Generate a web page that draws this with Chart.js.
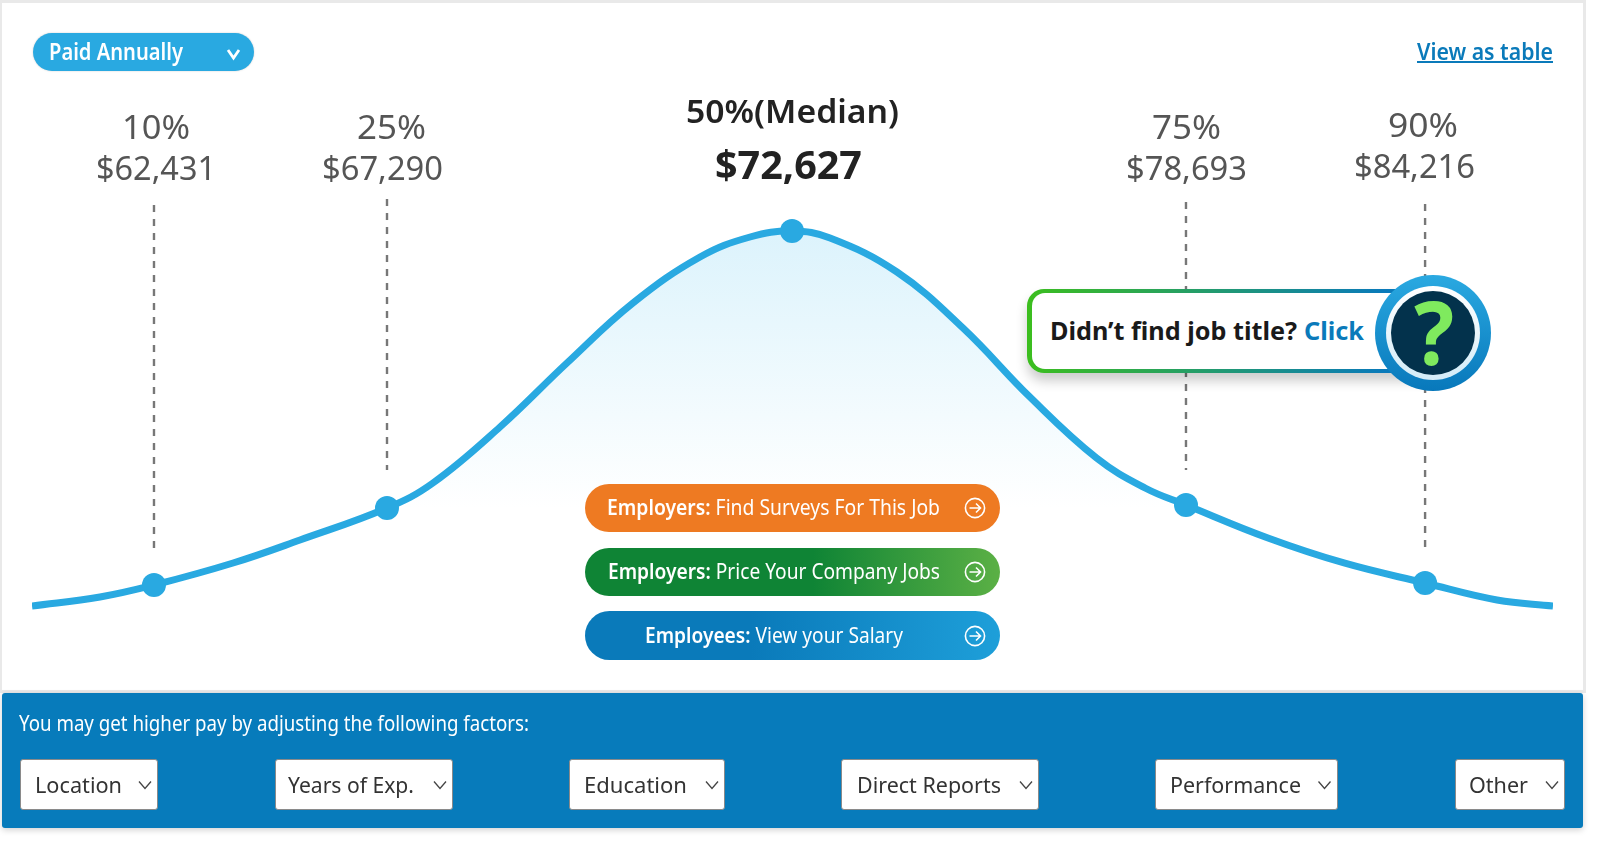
<!DOCTYPE html>
<html lang="en">
<head>
<meta charset="utf-8">
<title>Salary distribution</title>
<script src="https://cdn.jsdelivr.net/npm/chart.js@4/dist/chart.umd.min.js"></script>
<style>
html,body{margin:0;padding:0;background:#fff;width:1600px;height:842px;overflow:hidden;font-family:"Noto Sans",sans-serif}
#card{position:absolute;left:0;top:0;width:1581px;height:687px;border:solid #e9e9e9;border-width:3px 3px 3px 2px;background:#fff}
#chart{position:absolute;left:0;top:0;width:1600px;height:842px}
.t{position:absolute;white-space:nowrap;transform-origin:0 50%;line-height:1}
.t b{font-weight:600}
.box{position:absolute}
#panel{background:#077bbb;border-radius:3px;box-shadow:0 2px 6px rgba(0,0,0,.18)}
.sel{background:#fff;border:1.5px solid #8a8a8a;border-radius:3px;box-sizing:border-box}
.pill{border-radius:25px}
svg{position:absolute;overflow:visible}
</style>
</head>
<body>
<div id="card"></div>
<canvas id="chart" width="1600" height="842"></canvas>
<script>
// ---------- data ----------
const curveX = [0,4.47,8.02,13.22,17.62,23.34,26.36,30.77,35.17,39.51,43.92,47.21,49.97,52.47,56.87,61.21,65.61,69.99,73.18,75.87,81.26,86.26,91.59,96.32,100];
const curveY = [0,2.4,5.6,11.47,17.6,26.13,32.8,47.73,64.8,80.8,93.07,98.4,100,98.13,89.07,74.13,55.73,39.47,31.47,26.93,18.13,11.47,6.13,1.6,0];
const percentileNames = ["10%","25%","50%(Median)","75%","90%"];
const salaryLabels = ["$62,431","$67,290","$72,627","$78,693","$84,216"];
const percentileX = [8.02,23.34,49.97,75.87,91.59];
const percentileY = [5.6,26.13,100,26.93,6.13];
const guideTop = [106.93,108.53,null,107.73,107.2];
const guideBottom = [15.47,36.27,null,36.27,15.47];
const factorLabels = ["Location","Years of Exp.","Education","Direct Reports","Performance","Other"];

// ---------- chart ----------
const LINE = "#29a9e1";
const guideSets = percentileX.map((x,i)=> guideTop[i]===null ? null : ({
  label:"guide "+percentileNames[i],
  data:[{x:x,y:guideTop[i]},{x:x,y:guideBottom[i]}],
  borderColor:"#777",borderWidth:2.4,borderDash:[7,7],pointRadius:0,fill:false,order:3,tension:0
})).filter(Boolean);
new Chart(document.getElementById("chart"),{
  type:"line",
  data:{datasets:[
    {label:"percentiles",data:percentileX.map((x,i)=>({x:x,y:percentileY[i]})),showLine:false,
     pointRadius:12,pointBackgroundColor:LINE,pointBorderWidth:0,order:0},
    {label:"salary curve",data:curveX.map((x,i)=>({x:x,y:curveY[i]})),borderColor:LINE,borderWidth:7,
     pointRadius:0,tension:0.4,fill:"origin",order:1,
     backgroundColor(c){
       const ch=c.chart,s=ch.scales.y;
       if(!s||!ch.chartArea) return "rgba(0,0,0,0)";
       const g=ch.ctx.createLinearGradient(0,s.getPixelForValue(100),0,s.getPixelForValue(26));
       g.addColorStop(0,"#dcf3fc");g.addColorStop(1,"#ffffff");return g;
     }},
    ...guideSets
  ]},
  options:{
    responsive:false,animation:false,devicePixelRatio:1,events:[],
    layout:{padding:{left:32,right:47,top:156,bottom:198.5}},
    plugins:{legend:{display:false},tooltip:{enabled:false},title:{display:false}},
    scales:{
      x:{type:"linear",min:0,max:100,display:false},
      y:{type:"linear",min:-10,max:120,display:false}
    }
  }
});

// ---------- page furniture around the chart ----------
function box(x,y,w,h,css,cls){
  const d=document.createElement("div");d.className="box "+(cls||"");
  d.style.cssText=`left:${x}px;top:${y}px;width:${w}px;height:${h}px;${css||""}`;
  document.body.appendChild(d);return d;
}
function text(html,x0,x1,cy,size,weight,color){
  const s=document.createElement("span");s.className="t";s.innerHTML=html;
  s.style.cssText=`left:${x0}px;font-size:${size}px;font-weight:${weight};color:${color};`;
  document.body.appendChild(s);
  const r=s.getBoundingClientRect();
  s.style.top=(cy-r.height/2-1)+"px";
  s.style.transform=`scaleX(${(x1-x0)/r.width})`;
  return s;
}
function chevron(cx,cy,hw,hh,color,sw){
  const ns="http://www.w3.org/2000/svg",v=document.createElementNS(ns,"svg");
  v.setAttribute("width",1);v.setAttribute("height",1);v.style.left="0";v.style.top="0";
  const p=document.createElementNS(ns,"polyline");
  p.setAttribute("points",`${cx-hw},${cy-hh} ${cx},${cy+hh} ${cx+hw},${cy-hh}`);
  p.setAttribute("fill","none");p.setAttribute("stroke",color);p.setAttribute("stroke-width",sw);
  v.appendChild(p);document.body.appendChild(v);
}
function arrow(cx,cy){
  const ns="http://www.w3.org/2000/svg",v=document.createElementNS(ns,"svg");
  v.setAttribute("width",1);v.setAttribute("height",1);v.style.left="0";v.style.top="0";
  v.innerHTML=`<circle cx="${cx}" cy="${cy}" r="9.6" fill="none" stroke="#fff" stroke-width="1.6"/>
  <path d="M${cx-5.5} ${cy}H${cx+5.5}M${cx+1} ${cy-4.5}L${cx+5.5} ${cy}L${cx+1} ${cy+4.5}" fill="none" stroke="#fff" stroke-width="1.6"/>`;
  document.body.appendChild(v);
}

// top bar
box(33,32.5,221,38,"background:#29a9e1;box-shadow:0 0 2px rgba(0,0,0,.2)","pill");
text("Paid Annually",49,183,52,23,600,"#fff");
chevron(233.5,54,5.5,4,"#fff",2.8);
text("View as table",1417,1553,52,24,600,"#0a7aba");
box(1417,61,136,2,"background:#0a7aba");

// percentile labels
const nameSpan=[[122,190,127],[357,426,127],[686,899,111],[1152,1221,127],[1388,1458,125.5]];
const valueSpan=[[96,216,168],[322,443,168],[715,862,164.5],[1126,1247,168],[1354,1475,166]];
percentileNames.forEach((n,i)=>{
  const mid=i===2;
  text(n,nameSpan[i][0],nameSpan[i][1],nameSpan[i][2],33,mid?600:400,mid?"#222":"#555");
  text(salaryLabels[i],valueSpan[i][0],valueSpan[i][1],valueSpan[i][2],mid?40:33,mid?700:400,mid?"#222":"#555");
});

// callout
box(1027,289,420,84,"background:linear-gradient(90deg,#3cbe1e 0%,#0a7aba 85%);border-radius:17px;box-shadow:0 8px 12px rgba(0,0,0,.2)");
box(1031.5,293,411,76,"background:#fff;border-radius:13px");
text("Didn’t find job title?",1050,1297,332,25.5,700,"#1a1a1a");
text("Click",1304,1364,332,25.5,700,"#0a7aba");
box(1375,275,116,116,"border-radius:50%;background:linear-gradient(180deg,#2aa9e1,#0878bb)");
box(1386,286,94,94,"border-radius:50%;background:linear-gradient(180deg,#ffffff,#d3ecf8)");
box(1391,291,84,84,"border-radius:50%;background:#03324c");
text("?",1414,1454,332,88,700,"#7fea5e");

// buttons
box(585,484,415,48,"background:#ee7a22","pill");
box(585,548,415,48,"background:linear-gradient(90deg,#0f8435 0%,#0f8435 55%,#5bb045 100%)","pill");
box(585,611,415,49,"background:linear-gradient(90deg,#0a7aba 0%,#0a7aba 40%,#1e9fd9 100%)","pill");
text("<b>Employers:</b> Find Surveys For This Job",607,940,508,21,400,"#fff");
text("<b>Employers:</b> Price Your Company Jobs",608,940,572,21,400,"#fff");
text("<b>Employees:</b> View your Salary",645,903,636,21,400,"#fff");
arrow(975,508);arrow(975,572);arrow(975,636);

// factor panel
box(2,693,1581,135,"","").id="panel";
text("You may get higher pay by adjusting the following factors:",19,529,724,21,400,"#fff");
const selBox=[[20,158],[274.5,453],[569,725],[841,1039],[1154.5,1338],[1454.5,1565]];
const selText=[[35,122],[288,414],[584,687],[857,1001],[1170,1301],[1469,1528]];
const selChev=[145,440,712,1026,1324.5,1552];
factorLabels.forEach((f,i)=>{
  box(selBox[i][0],759,selBox[i][1]-selBox[i][0],51,"","sel");
  text(f,selText[i][0],selText[i][1],786,22.5,400,"#333");
  chevron(selChev[i],785,6,3.5,"#444",1.3);
});
</script>
</body>
</html>
